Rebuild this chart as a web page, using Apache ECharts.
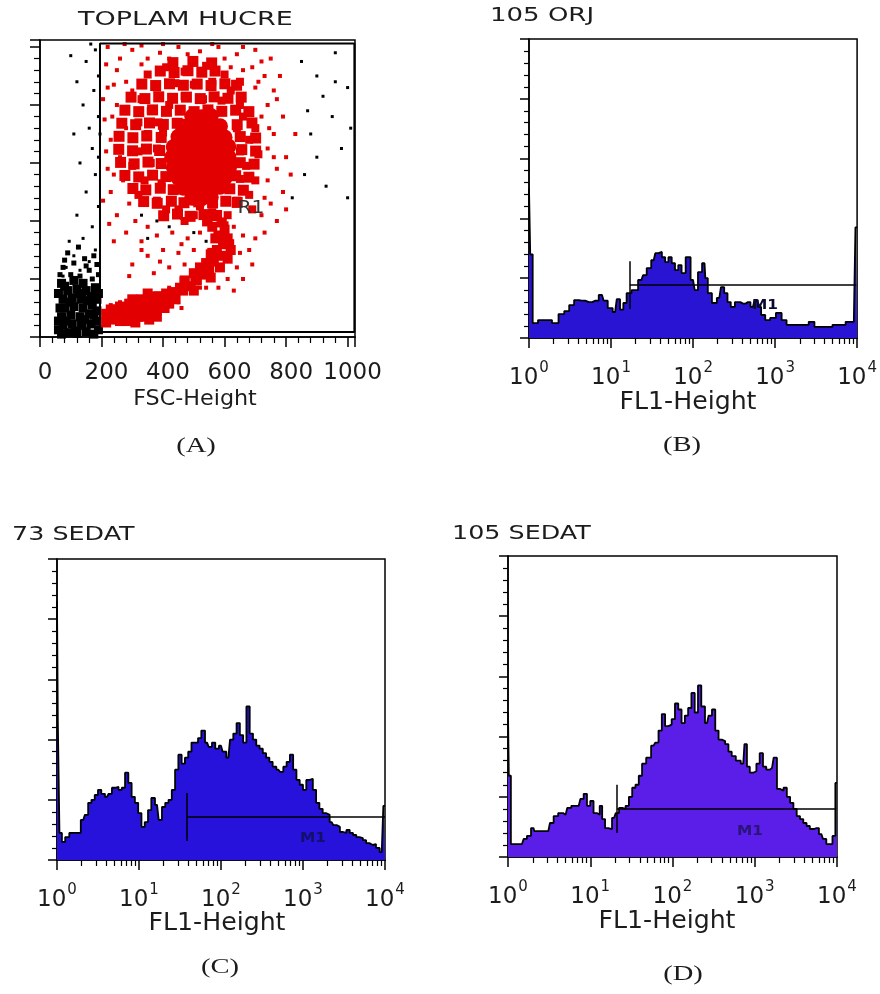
<!DOCTYPE html>
<html><head><meta charset="utf-8">
<script src="https://cdn.jsdelivr.net/npm/echarts@6/dist/echarts.min.js"></script>
<style>html,body{margin:0;padding:0;background:#fff}#c{width:880px;height:994px}</style>
</head><body><div id="c"></div>
<script>
// ---------- texts ----------
const titleA = 'TOPLAM HUCRE';
const titleB = '105 ORJ';
const titleC = '73 SEDAT';
const titleD = '105 SEDAT';
const axisNameA = 'FSC-Height';
const axisNameHist = 'FL1-Height';
const panelLetters = ['(A)', '(B)', '(C)', '(D)'];
const gateName = 'R1';
const markerName = 'M1';

// ---------- axis ticks ----------
const fscTickInterval = 200;
const logDecadeStarts = [0, 1, 2, 3];
const logMinorMultipliers = [2, 3, 4, 5, 6, 7, 8, 9];

// ---------- panel A: FSC / SSC dot plot (channel units 0..1024) ----------
const gateR1 = [[195, 17], [195, 1012], [1022, 1012], [1022, 17], [195, 17]];
const r1Core = [
  [495,480],[525,478],[555,482],
  [465,515],[495,512],[525,516],[555,514],[585,518],
  [450,550],[480,548],[510,552],[540,549],[570,551],[600,548],
  [435,585],[465,583],[495,587],[525,584],[555,586],[585,583],[615,587],
  [430,620],[460,618],[490,622],[520,619],[550,621],[580,618],[612,622],
  [435,655],[465,653],[495,657],[525,654],[555,656],[585,653],[612,657],
  [450,690],[480,688],[510,692],[540,689],[570,691],[600,688],
  [465,725],[495,722],[525,726],[555,723],[585,727],
  [495,760],[525,758],[555,762]
];
const r1Fill = [
  [402,418],[447,424],[488,416],[533,422],[574,419],
  [337,467],[381,461],[427,468],[468,463],[516,466],[561,462],[604,468],[641,464],
  [302,512],[344,507],[391,513],[433,508],[617,511],[661,506],
  [276,557],[321,552],[366,558],[409,553],[636,556],[679,551],
  [262,602],[306,597],[351,603],[394,598],[651,601],[696,596],
  [256,647],[301,642],[346,648],[389,643],[656,646],[701,641],
  [257,692],[302,687],[347,693],[394,688],[651,691],[701,686],
  [266,737],[311,732],[356,738],[401,733],[446,737],[641,732],[689,738],
  [276,782],[321,777],[366,783],[411,778],[456,782],[501,777],[546,783],[591,778],[636,782],[679,777],
  [296,827],[341,822],[386,828],[431,823],[476,827],[521,822],[566,828],[611,823],[654,827],
  [331,872],[376,867],[421,873],[466,868],[511,872],[556,867],[601,873],[639,868],
  [391,917],[436,912],[481,918],[526,913],[569,917],
  [432,946],[497,950],[558,945]
];
const r1Mid = [
  [350,905],[410,930],[470,915],[540,935],[600,905],[650,880],[380,860],[440,875],[500,870],
  [560,880],[620,850],[330,820],[470,830],[530,820],[590,815],[420,800],[650,800],[360,780],
  [320,740],[385,740],[300,690],[350,700],[400,705],[320,640],[380,650],[300,590],[360,600],
  [340,540],[395,530],[320,490],[380,470],[410,440],
  [660,760],[700,720],[640,720],[680,680],[650,640],[710,630],[670,590],[700,540],[650,545],
  [680,490],[640,470],[690,440],
  [450,440],[500,420],[560,430],[610,420],[470,400],[540,395],[600,385],[520,450]
];
const r1Lower = [
  [560,380],[580,350],[595,320],[575,300],[590,280],[565,260],[550,235],[530,215],[510,195],
  [490,175],[465,160],[440,145],[540,255],[610,340],[600,370],[620,300],[555,285],[520,240],
  [500,220],[470,190],
  [545,400],[590,395],[570,340],[615,320],[610,270],[560,290],[585,240],[545,250],[520,230],
  [555,205],[505,205],[470,195],[500,160],[455,170],[430,155],[410,125],[380,140],[370,120],
  [330,130],[320,100],[290,115],[280,80],[250,95],[240,70],[215,80],[215,50],[260,55],
  [240,60],[265,70],[290,75],[315,85],[340,95],[365,105],[390,115],[415,130],[435,145],
  [255,90],[285,100],[310,110],[335,120],[360,130],[385,140],[410,150],[280,55],[305,65],
  [330,70],[355,80],[380,90],[405,100],[230,80],[300,130],[350,150],
  [250,75],[270,85],[300,90],[320,70],[345,85],[370,95],[395,105],[420,115],[440,130],
  [260,105],[230,95],[290,60],[310,50],[355,60],[380,70]
];
const r1Sparse = [
  [220,1000],[260,960],[300,990],[250,920],[330,1005],[390,980],[450,1000],[520,985],[580,1000],
  [640,975],[700,990],[750,960],[690,930],[730,900],[280,880],[220,860],[250,800],[210,750],
  [280,720],[230,680],[260,620],[220,580],[270,540],[230,500],[290,460],[250,420],[310,400],
  [350,380],[280,360],[240,330],
  [760,850],[740,800],[790,760],[760,700],[740,650],[800,620],[770,580],[740,540],[790,500],
  [750,460],[720,420],[770,400],[730,360],[700,340],[800,440],[830,700],[815,560],
  [330,330],[380,350],[430,360],[480,340],[400,300],[350,280],[450,290],[500,300],[420,240],
  [370,220],[300,250],[470,250],[520,360],
  [620,330],[650,290],[640,240],[610,200],[580,170],[660,350],[680,300],
  [300,850],[700,860],[330,940],[600,960],[420,960],
  [600,400],[630,380],[520,170],[450,120],[420,170],[260,120],[230,110],[460,100],
  [215,940],[240,870],[205,820],[235,760],[215,640],[240,560],[205,470],[225,390],
  [660,1000],[720,950],[780,900],[710,880],[770,820],[720,760],[760,620],[730,480],
  [400,1010],[480,975],[560,1010],[620,930],[350,960],[275,1010],[660,920],[745,720],
  [330,300],[290,210],[390,260],[460,320],[540,170],[660,200],[690,250],[630,160]
];
const outBlob = [
  [70,10],[95,15],[120,12],[150,18],[175,10],[190,25],[75,40],[105,45],[135,40],[165,45],
  [185,55],[70,70],[100,75],[130,70],[160,80],[185,90],[80,100],[110,105],[140,100],[170,110],
  [75,130],[105,135],[135,130],[165,140],[90,160],[120,165],[150,160],[180,170],[70,185],[110,195],
  [60,25],[85,55],[115,20],[145,60],[175,75],[65,100],[95,120],[125,150],[155,125],[185,130],
  [80,175],[140,185],[60,150],[60,55],[190,150]
];
const outBlobTop = [
  [170,200],[100,215],[130,210],[75,240],[160,230],[110,255],[145,270],[90,290],[175,280],
  [125,310],[190,215],[65,215],[150,245],[185,250],[80,265]
];
const outSparse = [
  [130,230],[160,260],[110,280],[180,300],[140,340],[170,380],[120,420],[190,450],[150,500],
  [180,560],[130,600],[170,650],[110,700],[160,720],[190,760],[140,800],[175,850],[120,880],
  [190,900],[150,950],[180,990],[100,970],[165,1010],[190,620],[195,700],[85,240],[75,210],[95,330],
  [850,950],[900,900],[960,880],[1000,860],[920,830],[870,780],[950,760],[1010,720],[980,650],
  [900,620],[860,560],[930,520],[1000,480],[820,480],[880,700],[960,980],
  [330,420],[380,400],[420,380],[460,410],[500,360],[350,340],[540,330]
];

// ---------- histograms: [log10(FL1), counts (% of y range)] ----------
const histB = [
  [0.00,50],[0.03,28],[0.06,5],[0.16,6],[0.24,6],[0.32,5],[0.40,8],[0.46,9],[0.52,11],[0.58,12.7],
  [0.64,12.5],[0.73,12],[0.81,12.5],[0.89,14.4],[0.93,12.5],[0.99,10],[1.05,8.7],[1.09,13],[1.13,9.5],
  [1.17,11.7],[1.21,15],[1.29,16],[1.37,19.4],[1.41,21],[1.46,23.4],[1.52,26],[1.56,28.4],[1.60,28.8],
  [1.64,27],[1.68,25.4],[1.72,27],[1.76,25],[1.80,22.7],[1.84,24.4],[1.88,21.7],[1.94,27],[2.00,19.4],
  [2.04,16],[2.08,22],[2.14,25],[2.16,20],[2.20,15],[2.26,11.7],[2.32,13.4],[2.36,17],[2.40,15],
  [2.44,12],[2.48,10.4],[2.54,12],[2.61,11.5],[2.67,12],[2.73,10.4],[2.77,12.7],[2.81,10.4],[2.85,7.7],
  [2.91,6],[2.97,6.7],[3.05,8.4],[3.11,6],[3.17,4.4],[3.27,4.4],[3.38,4.4],[3.44,5.4],[3.52,3.7],
  [3.60,3.7],[3.66,3.7],[3.74,4.4],[3.82,4.4],[3.90,5.4],[3.96,5.4],[4.00,37]
];
const histC = [
  [0.00,86],[0.02,46],[0.04,9],[0.08,6],[0.12,7.6],[0.18,9],[0.26,9],[0.32,13.3],[0.36,15],[0.40,19],
  [0.44,20],[0.48,21.6],[0.52,23.3],[0.56,22],[0.61,21],[0.65,22],[0.69,24],[0.73,24.3],[0.77,23.3],
  [0.81,24],[0.85,29],[0.89,25.6],[0.93,21],[0.97,19],[1.01,15.6],[1.05,11],[1.09,12.6],[1.13,16.6],
  [1.17,20.6],[1.22,18.3],[1.26,13.3],[1.30,17.6],[1.34,19],[1.38,20],[1.42,23.3],[1.46,30],[1.50,35],
  [1.54,32],[1.58,34],[1.62,36],[1.66,39],[1.70,39],[1.74,40.5],[1.78,43],[1.83,39],[1.87,37.6],
  [1.91,39],[1.95,37],[2.00,38],[2.04,36],[2.09,34],[2.13,40],[2.17,42],[2.21,45.5],[2.25,41.5],
  [2.29,39],[2.33,51],[2.37,42],[2.41,40],[2.45,38],[2.49,37],[2.53,35.5],[2.57,34],[2.61,32.6],
  [2.65,31],[2.70,30],[2.74,29.3],[2.78,31],[2.82,32.6],[2.86,35],[2.90,30],[2.94,26.6],[2.98,25],
  [3.02,23.3],[3.06,26.6],[3.10,27],[3.14,23.3],[3.18,19],[3.22,17],[3.26,15.6],[3.30,15],[3.35,12.6],
  [3.39,11.6],[3.43,11],[3.47,9.3],[3.51,9],[3.55,10],[3.59,9],[3.63,8.3],[3.67,7.6],[3.71,7.3],
  [3.75,6.6],[3.79,5.6],[3.83,5],[3.87,5.3],[3.91,4],[3.96,2.6],[4.00,18]
];
const histD = [
  [0.00,48],[0.02,27],[0.05,4.3],[0.11,4.3],[0.17,4.3],[0.21,6],[0.25,7],[0.31,9.6],[0.33,8.6],
  [0.41,8.6],[0.49,8.6],[0.53,11.3],[0.58,13.6],[0.64,14.6],[0.70,14],[0.74,16.3],[0.80,17],[0.86,17],
  [0.90,19.3],[0.94,21],[0.98,17],[1.02,18.6],[1.06,14.6],[1.10,14],[1.13,17],[1.16,12.6],[1.20,9.6],
  [1.24,9.3],[1.29,13],[1.33,14.6],[1.37,16.3],[1.41,16],[1.45,17],[1.49,20],[1.53,23],[1.57,24],
  [1.61,27],[1.65,31],[1.71,33],[1.77,37],[1.81,38],[1.85,42],[1.89,47.5],[1.93,43.5],[1.97,44],
  [2.01,45.8],[2.05,51],[2.09,49],[2.13,44.5],[2.17,47],[2.21,49.5],[2.25,54.5],[2.29,48],[2.33,57],
  [2.37,50],[2.42,44.5],[2.46,47],[2.50,49],[2.54,42],[2.58,39],[2.62,38.5],[2.66,37.5],[2.70,35],
  [2.74,33.5],[2.80,32],[2.86,31],[2.89,37.5],[2.92,30],[2.96,28],[3.00,28.5],[3.04,31],[3.08,34.5],
  [3.12,30],[3.16,29],[3.21,29.6],[3.25,33],[3.29,22.6],[3.33,22],[3.37,23],[3.41,20],[3.45,18],
  [3.49,16],[3.53,13.6],[3.57,12.6],[3.61,11.3],[3.65,10.3],[3.69,9.3],[3.75,9.6],[3.81,7.6],[3.85,6],
  [3.89,4.3],[3.93,4.3],[3.96,7],[4.00,24.6]
];
// markers: [start (log10), end (log10), level]
const markerB = [1.23, 3.99, 17.7];
const markerC = [1.585, 4.00, 14.3];
const markerD = [1.325, 3.99, 16];

// ---------- styling ----------
const SANS = '"DejaVu Sans", sans-serif';
const SERIF = '"Liberation Serif", "DejaVu Serif", serif';
const INK = '#1c1c1c';
const RED = '#e30000';
const minorLogTicks = logDecadeStarts.flatMap(d => logMinorMultipliers.map(m => d + Math.log10(m)));

const frame = { show: true, borderColor: '#000', borderWidth: 1.5, backgroundColor: 'transparent' };
const grids = [
  Object.assign({ left: 40, top: 40, width: 315, height: 297 }, frame),
  Object.assign({ left: 529, top: 39, width: 329, height: 299 }, frame),
  Object.assign({ left: 57, top: 559, width: 328, height: 301 }, frame),
  Object.assign({ left: 508, top: 556, width: 329, height: 301 }, frame)
];

const blk = { color: '#000', width: 1.5 };
function logMainAxis(gi) {
  return {
    type: 'value', gridIndex: gi, min: 0, max: 4, interval: 1, position: 'bottom',
    axisLine: { show: true, onZero: false, lineStyle: blk },
    axisTick: { show: true, length: 10, lineStyle: blk },
    axisLabel: {
      show: true, margin: 23, formatter: v => '{b|10}{s|' + v + '}',
      rich: {
        b: { fontFamily: SANS, fontSize: 23, color: INK },
        s: { fontFamily: SANS, fontSize: 15, color: INK, padding: [0, 0, 20, 1] }
      }
    },
    splitLine: { show: false }
  };
}
function logMinorAxis(gi) {
  return {
    type: 'value', gridIndex: gi, min: 0, max: 4, position: 'bottom',
    axisLine: { show: false },
    axisTick: { show: true, length: 6, customValues: minorLogTicks, lineStyle: { color: '#000', width: 1.2 } },
    axisLabel: { show: false }, splitLine: { show: false }
  };
}
function countAxis(gi) {
  return {
    type: 'value', gridIndex: gi, min: 0, max: 100, interval: 20,
    axisLine: { show: true, onZero: false, lineStyle: blk },
    axisTick: { show: true, length: 9, lineStyle: blk },
    minorTick: { show: true, splitNumber: 5, length: 5, lineStyle: { color: '#000', width: 1.2 } },
    axisLabel: { show: false }, splitLine: { show: false }, minorSplitLine: { show: false }
  };
}
function histSeries(xi, yi, data, fill, m) {
  return {
    type: 'line', xAxisIndex: xi, yAxisIndex: yi, data: data, step: 'middle', symbol: 'none',
    silent: true, lineStyle: { color: '#000', width: 1.8 }, areaStyle: { color: fill, opacity: 1 },
    markLine: {
      silent: true, symbol: 'none', animation: false, label: { show: false },
      lineStyle: { color: '#000', width: 1.5, type: 'solid' },
      data: [
        [{ coord: [m[0], m[2]] }, { coord: [m[1], m[2]] }],
        [{ coord: [m[0], m[2] + 8] }, { coord: [m[0], m[2] - 8] }]
      ]
    }
  };
}
function dots(data, size, color, symbol) {
  return { type: 'scatter', xAxisIndex: 0, yAxisIndex: 0, data: data, symbol: symbol, symbolSize: size,
    itemStyle: { color: color, opacity: 1 }, silent: true };
}
function txt(str, x, y, font, align, sx, fill) {
  return { type: 'text', x: x, y: y, scaleX: sx, silent: true, z: 100,
    style: { text: str, font: font, fill: fill || INK, align: align, verticalAlign: 'middle',
             textAlign: align, textVerticalAlign: 'middle' } };
}

const option = {
  animation: false,
  backgroundColor: '#fff',
  grid: grids,
  xAxis: [
    {
      type: 'value', gridIndex: 0, min: 0, max: 1024, interval: fscTickInterval, position: 'bottom',
      axisLine: { show: true, onZero: false, lineStyle: blk },
      axisTick: { show: true, length: 10, lineStyle: blk },
      minorTick: { show: true, splitNumber: 5, length: 6, lineStyle: { color: '#000', width: 1.2 } },
      axisLabel: { show: true, margin: 25, showMaxLabel: false, fontFamily: SANS, fontSize: 23, color: INK,
                   padding: [0, 0, 0, 10], formatter: v => String(v) },
      splitLine: { show: false }, minorSplitLine: { show: false }
    },
    logMainAxis(1), logMinorAxis(1),
    logMainAxis(2), logMinorAxis(2),
    logMainAxis(3), logMinorAxis(3)
  ],
  yAxis: [
    {
      type: 'value', gridIndex: 0, min: 0, max: 1024, interval: fscTickInterval,
      axisLine: { show: true, onZero: false, lineStyle: blk },
      axisTick: { show: true, length: 10, lineStyle: blk },
      minorTick: { show: true, splitNumber: 5, length: 6, lineStyle: { color: '#000', width: 1.2 } },
      axisLabel: { show: false }, splitLine: { show: false }, minorSplitLine: { show: false }
    },
    countAxis(1), countAxis(2), countAxis(3)
  ],
  series: [
    dots(outSparse, 3, '#000', 'rect'),
    dots(outBlobTop, 5, '#000', 'rect'),
    dots(outBlob, 9, '#000', 'rect'),
    dots(r1Sparse, 4, RED, 'rect'),
    dots(r1Mid, 8, RED, 'rect'),
    dots(r1Fill, 11, RED, 'rect'),
    dots(r1Lower, 10, RED, 'rect'),
    dots(r1Core, 16, RED, 'circle'),
    { type: 'line', xAxisIndex: 0, yAxisIndex: 0, data: gateR1, symbol: 'none', silent: true,
      lineStyle: { color: '#000', width: 2 }, z: 5 },
    histSeries(1, 1, histB, '#2a14d4', markerB),
    histSeries(3, 2, histC, '#2612da', markerC),
    histSeries(5, 3, histD, '#5a1ee8', markerD)
  ],
  graphic: [
    txt(titleA, 78, 20, '20px ' + SANS, 'left', 1.35),
    txt(titleB, 490, 16, '20px ' + SANS, 'left', 1.3),
    txt(titleC, 12, 535, '20px ' + SANS, 'left', 1.27),
    txt(titleD, 452, 534, '20px ' + SANS, 'left', 1.27),
    txt(axisNameA, 195, 400, '21px ' + SANS, 'center', 1.06),
    txt(axisNameHist, 688, 403, '24px ' + SANS, 'center', 1.05),
    txt(axisNameHist, 217, 924, '24px ' + SANS, 'center', 1.05),
    txt(axisNameHist, 667, 922, '24px ' + SANS, 'center', 1.05),
    txt(panelLetters[0], 196, 446, '22px ' + SERIF, 'center', 1.3),
    txt(panelLetters[1], 682, 445, '22px ' + SERIF, 'center', 1.3),
    txt(panelLetters[2], 220, 967, '22px ' + SERIF, 'center', 1.3),
    txt(panelLetters[3], 683, 974, '22px ' + SERIF, 'center', 1.3),
    txt(gateName, 251, 209, '17px ' + SANS, 'center', 1.2, '#333'),
    txt(markerName, 765, 305, 'bold 14px ' + SANS, 'center', 1.1, '#0a0a30'),
    txt(markerName, 313, 838, 'bold 14px ' + SANS, 'center', 1.1, '#14106a'),
    txt(markerName, 750, 831, 'bold 14px ' + SANS, 'center', 1.1, '#2a1478')
  ]
};

const chart = echarts.init(document.getElementById('c'), null, { renderer: 'canvas' });
chart.setOption(option);
</script></body></html>
